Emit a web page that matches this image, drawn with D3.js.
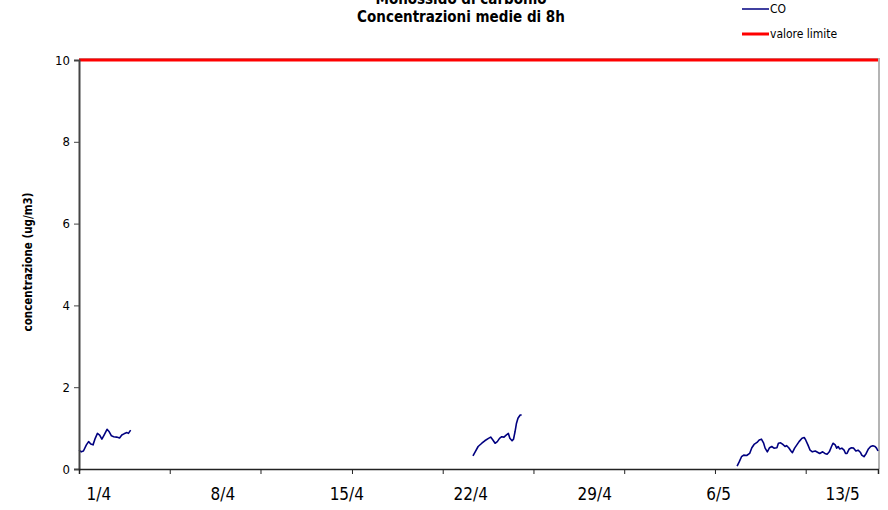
<!DOCTYPE html>
<html>
<head>
<meta charset="utf-8">
<script src="https://cdn.jsdelivr.net/npm/d3@7/dist/d3.min.js"></script>
<style>
  html, body { margin: 0; padding: 0; background: #fff; }
  svg { display: block; }
</style>
</head>
<body>
<svg id="chart" width="888" height="510"></svg>
<script>
// ---- data (hours from start of series axis) ----
const titleLines = ["Monossido di carbonio", "Concentrazioni medie di 8h"];
const yAxisTitle = "concentrazione (ug/m3)";
const seriesNames = ["CO", "valore limite"];
const limitValue = 10;
const yTicks = [0, 2, 4, 6, 8, 10];
const xLabels = ["1/4", "8/4", "15/4", "22/4", "29/4", "6/5", "13/5"];
const xLabelHours = [27, 195, 363, 531, 699, 867, 1035];
const xTickHours = [0, 123, 246, 370, 493, 616, 739, 862, 985];
const hourDomain = [0, 1083];

const coHours1 = [0, 3, 6, 10, 13, 16, 19, 22, 25, 28, 31, 34, 38, 41, 44, 47, 51, 55, 58, 61, 65, 67, 70];
const coValues1 = [0.46, 0.42, 0.44, 0.59, 0.67, 0.61, 0.59, 0.75, 0.87, 0.83, 0.73, 0.83, 0.97, 0.91, 0.81, 0.79, 0.78, 0.76, 0.83, 0.86, 0.89, 0.87, 0.95];

const coHours2 = [534, 537, 541, 546, 550, 555, 558, 561, 564, 567, 570, 573, 576, 579, 582, 584, 587, 589, 591, 593, 595, 598, 600];
const coValues2 = [0.32, 0.42, 0.55, 0.63, 0.69, 0.75, 0.78, 0.71, 0.63, 0.67, 0.75, 0.79, 0.78, 0.83, 0.87, 0.75, 0.69, 0.73, 0.91, 1.12, 1.24, 1.32, 1.32];

const coHours3 = [892, 895, 898, 901, 905, 909, 912, 915, 919, 922, 925, 928, 930, 933, 936, 939, 942, 946, 948, 951, 954, 957, 959, 962, 965, 967, 970, 973, 976, 980, 983, 985, 988, 991, 994, 998, 1001, 1004, 1008, 1011, 1014, 1017, 1020, 1022, 1025, 1027, 1029, 1031, 1034, 1037, 1039, 1041, 1044, 1047, 1050, 1053, 1056, 1059, 1061, 1064, 1067, 1070, 1073, 1076, 1079, 1081, 1083];
const coValues3 = [0.07, 0.18, 0.30, 0.34, 0.33, 0.38, 0.52, 0.60, 0.65, 0.71, 0.73, 0.63, 0.51, 0.42, 0.52, 0.55, 0.51, 0.52, 0.63, 0.64, 0.60, 0.55, 0.57, 0.52, 0.44, 0.40, 0.51, 0.59, 0.67, 0.75, 0.77, 0.71, 0.59, 0.46, 0.42, 0.44, 0.41, 0.38, 0.42, 0.38, 0.36, 0.42, 0.55, 0.63, 0.59, 0.51, 0.55, 0.49, 0.51, 0.46, 0.38, 0.38, 0.49, 0.52, 0.51, 0.44, 0.46, 0.41, 0.34, 0.30, 0.38, 0.49, 0.55, 0.57, 0.55, 0.51, 0.44];

// ---- layout ----
const FONT = "Tahoma, 'DejaVu Sans Condensed', 'DejaVu Sans', sans-serif";
const plot = { left: 79, right: 878, top: 60, bottom: 469 };

const svg = d3.select("#chart");
const x = d3.scaleLinear().domain(hourDomain).range([plot.left, plot.right]);
const y = d3.scaleLinear().domain([0, 10]).range([plot.bottom, plot.top]);

// plot area border (top & right)
svg.append("path")
  .attr("d", `M${plot.left},${plot.top - 1}H${plot.right + 1}V${plot.bottom}`)
  .attr("fill", "none").attr("stroke", "#b4b4b4").attr("stroke-width", 2);

// limit line
svg.append("line")
  .attr("x1", x(hourDomain[0])).attr("x2", x(hourDomain[1]))
  .attr("y1", y(limitValue)).attr("y2", y(limitValue))
  .attr("stroke", "#ff0000").attr("stroke-width", 3);

// CO line segments
const line = d3.line().x(d => x(d[0])).y(d => y(d[1]));
[[coHours1, coValues1], [coHours2, coValues2], [coHours3, coValues3]].forEach(([h, v]) => {
  svg.append("path")
    .datum(h.map((hh, i) => [hh, v[i]]))
    .attr("d", line)
    .attr("fill", "none")
    .attr("stroke", "#000080")
    .attr("stroke-width", 1.6)
    .attr("stroke-linejoin", "round");
});

// Y axis
const yAxis = svg.append("g")
  .attr("transform", `translate(${plot.left},0)`)
  .call(d3.axisLeft(y).tickValues(yTicks).tickSize(5).tickPadding(4).tickFormat(d3.format("d")));
yAxis.select(".domain").attr("stroke", "#444").attr("stroke-width", 2);
yAxis.selectAll(".tick line").attr("stroke", "#444");
yAxis.selectAll(".tick text").attr("font-family", FONT).attr("font-size", 13).attr("fill", "#000");

// X axis
const xAxis = svg.append("g")
  .attr("transform", `translate(0,${plot.bottom})`)
  .call(d3.axisBottom(x).tickValues(xTickHours).tickSize(5).tickFormat(""));
xAxis.select(".domain").attr("stroke", "#222").attr("stroke-width", 1.5);
xAxis.selectAll(".tick line").attr("stroke", "#222");

svg.append("g").selectAll("text")
  .data(xLabels)
  .join("text")
  .attr("x", (d, i) => x(xLabelHours[i]))
  .attr("y", 500)
  .attr("text-anchor", "middle")
  .attr("font-family", FONT)
  .attr("font-size", 17)
  .attr("fill", "#000")
  .text(d => d);

// Titles
svg.append("g").selectAll("text")
  .data(titleLines)
  .join("text")
  .attr("x", 461)
  .attr("y", (d, i) => 4 + i * 18)
  .attr("text-anchor", "middle")
  .attr("font-family", FONT)
  .attr("font-weight", "bold")
  .attr("font-size", 15)
  .attr("fill", "#000")
  .text(d => d);

// Y axis title
svg.append("text")
  .attr("transform", `translate(32,262) rotate(-90)`)
  .attr("text-anchor", "middle")
  .attr("font-family", FONT)
  .attr("font-weight", "bold")
  .attr("font-size", 11.5)
  .attr("fill", "#000")
  .text(yAxisTitle);

// Legend
const legend = svg.append("g");
const legendItems = [
  { name: seriesNames[0], color: "#000080", width: 1.5, y: 9 },
  { name: seriesNames[1], color: "#ff0000", width: 3, y: 34 }
];
legendItems.forEach(it => {
  legend.append("line")
    .attr("x1", 742).attr("x2", 769).attr("y1", it.y).attr("y2", it.y)
    .attr("stroke", it.color).attr("stroke-width", it.width);
  legend.append("text")
    .attr("x", 770).attr("y", it.y + 4)
    .attr("font-family", FONT)
    .attr("font-size", 12)
    .attr("fill", "#000")
    .text(it.name);
});
</script>
</body>
</html>
